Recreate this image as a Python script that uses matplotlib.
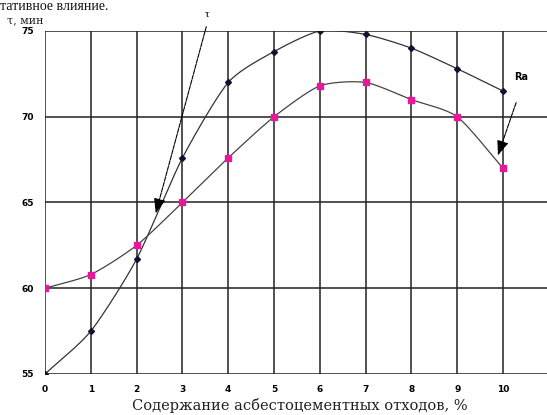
import numpy as np
import matplotlib
matplotlib.use("Agg")
import matplotlib.pyplot as plt

x_vals = [0, 1, 2, 3, 4, 5, 6, 7, 8, 9, 10]
tau_vals = [55.0, 57.5, 61.7, 67.6, 72.0, 73.8, 75.0, 74.8, 74.0, 72.8, 71.5]
ra_vals = [60.0, 60.8, 62.5, 65.0, 67.6, 70.0, 71.8, 72.0, 71.0, 70.0, 67.0]
y_ticks = [55, 60, 65, 70, 75]
x_label = "Содержание асбестоцементных отходов, %"
y_label = "τ, мин"


def smooth(xs, ys, n=20, tension=0.35):
    xs = np.asarray(xs, float)
    ys = np.asarray(ys, float)
    px = np.concatenate([[2 * xs[0] - xs[1]], xs, [2 * xs[-1] - xs[-2]]])
    py = np.concatenate([[2 * ys[0] - ys[1]], ys, [2 * ys[-1] - ys[-2]]])
    ox, oy = [], []
    t = np.linspace(0, 1, n, endpoint=False)
    h00 = 2 * t**3 - 3 * t**2 + 1
    h10 = t**3 - 2 * t**2 + t
    h01 = -2 * t**3 + 3 * t**2
    h11 = t**3 - t**2
    for i in range(1, len(px) - 2):
        for arr, out in ((px, ox), (py, oy)):
            p0, p1, p2, p3 = arr[i - 1], arr[i], arr[i + 1], arr[i + 2]
            m1 = tension * (p2 - p0)
            m2 = tension * (p3 - p1)
            out.extend(h00 * p1 + h10 * m1 + h01 * p2 + h11 * m2)
    ox.append(xs[-1]); oy.append(ys[-1])
    return np.array(ox), np.array(oy)


fig = plt.figure(figsize=(5.47, 4.15), dpi=100)
ax = fig.add_axes([45 / 547, 1 - 374 / 415, 1 - 45 / 547, (374 - 31) / 415])
ax.set_xlim(0, 10.96)
ax.set_ylim(55, 75)
for s in ax.spines.values():
    s.set_visible(False)

for xv in x_vals:
    ax.axvline(xv, color="#222222", lw=1.1, zorder=1)
for yv in y_ticks:
    ax.axhline(yv, color="#222222", lw=1.1, zorder=1)

sx, sy = smooth(x_vals, tau_vals)
ax.plot(sx, sy, color="#333333", lw=0.9, zorder=3)
ax.plot(x_vals, tau_vals, ls="none", marker="D", ms=3, color="#111133", zorder=4)

sx, sy = smooth(x_vals, ra_vals)
ax.plot(sx, sy, color="#444444", lw=0.9, zorder=3)
ax.plot(x_vals, ra_vals, ls="none", marker="s", ms=4.5, color="#e8189c",
        mec="#e8189c", zorder=4)

ax.set_xticks(x_vals)
ax.set_xticklabels([str(v) for v in x_vals], fontsize=6.5, fontweight="bold",
                   family="DejaVu Sans")
ax.set_yticks(y_ticks)
ax.set_yticklabels([str(v) for v in y_ticks], fontsize=6.5, fontweight="bold",
                   family="DejaVu Sans")
ax.tick_params(length=0, pad=8)

fig.text(300 / 547, 1 - 405 / 415, x_label, ha="center", va="center",
         fontsize=10.5, family="DejaVu Serif", color="#222222")
fig.text(7 / 547, 1 - 20 / 415, y_label, ha="left", va="center",
         fontsize=8, family="DejaVu Serif", color="#222222")
fig.text(0.0, 1.0, "тативное влияние.", ha="left", va="top",
         fontsize=10, family="Liberation Serif", color="#111111")

def fx(p):
    return (p - 45) / 458 * 10

def fy(p):
    return 75 - (p - 31) / 17.15

ax.annotate("", xy=(fx(155), fy(216)), xytext=(fx(207), fy(24)),
            arrowprops=dict(arrowstyle="-|>,head_length=0.9,head_width=0.35",
                            color="black", lw=0.8, ls=(0, (4, 1))),
            annotation_clip=False, zorder=5)
ax.text(fx(207), fy(15), "τ", ha="center", va="center", fontsize=8,
        family="Liberation Serif", clip_on=False)
ax.annotate("", xy=(fx(497), fy(158)), xytext=(fx(517), fy(100)),
            arrowprops=dict(arrowstyle="-|>,head_length=0.9,head_width=0.35",
                            color="black", lw=0.8, ls=(0, (4, 1))),
            annotation_clip=False, zorder=5)
ax.text(fx(521), fy(77), "Ra", ha="center", va="center", fontsize=7,
        fontweight="bold", family="DejaVu Sans", clip_on=False)

fig.savefig("out.png", dpi=100, facecolor="white")
